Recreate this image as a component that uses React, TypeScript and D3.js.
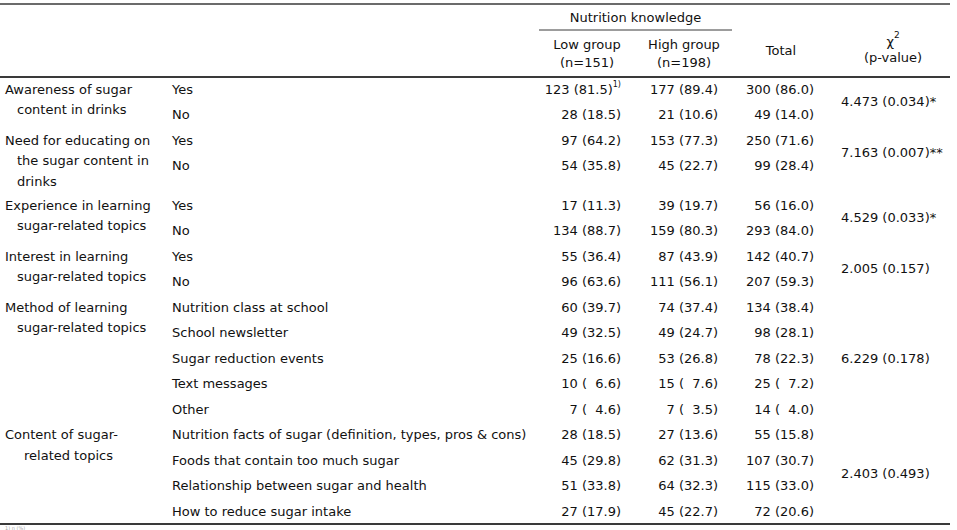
import React from "react";
import * as d3 from "d3";

const categoryLines: string[][] = [
  ["Awareness of sugar", "content in drinks"],
  ["Need for educating on", "the sugar content in", "drinks"],
  ["Experience in learning", "sugar-related topics"],
  ["Interest in learning", "sugar-related topics"],
  ["Method of learning", "sugar-related topics"],
  ["Content of sugar-", "related topics"],
];
const optionLabels: string[][] = [
  ["Yes", "No"],
  ["Yes", "No"],
  ["Yes", "No"],
  ["Yes", "No"],
  ["Nutrition class at school", "School newsletter", "Sugar reduction events", "Text messages", "Other"],
  [
    "Nutrition facts of sugar (definition, types, pros & cons)",
    "Foods that contain too much sugar",
    "Relationship between sugar and health",
    "How to reduce sugar intake",
  ],
];
const lowN = [123, 28, 97, 54, 17, 134, 55, 96, 60, 49, 25, 10, 7, 28, 45, 51, 27];
const lowPct = [81.5, 18.5, 64.2, 35.8, 11.3, 88.7, 36.4, 63.6, 39.7, 32.5, 16.6, 6.6, 4.6, 18.5, 29.8, 33.8, 17.9];
const highN = [177, 21, 153, 45, 39, 159, 87, 111, 74, 49, 53, 15, 7, 27, 62, 64, 45];
const highPct = [89.4, 10.6, 77.3, 22.7, 19.7, 80.3, 43.9, 56.1, 37.4, 24.7, 26.8, 7.6, 3.5, 13.6, 31.3, 32.3, 22.7];
const totalN = [300, 49, 250, 99, 56, 293, 142, 207, 134, 98, 78, 25, 14, 55, 107, 115, 72];
const totalPct = [86.0, 14.0, 71.6, 28.4, 16.0, 84.0, 40.7, 59.3, 38.4, 28.1, 22.3, 7.2, 4.0, 15.8, 30.7, 33.0, 20.6];
const chiSq = ["4.473", "7.163", "4.529", "2.005", "6.229", "2.403"];
const pValues = ["0.034", "0.007", "0.033", "0.157", "0.178", "0.493"];
const signif = ["*", "**", "*", "", "", ""];
const headerGroup = "Nutrition knowledge";
const colHeaders = [["Low group", "(n=151)"], ["High group", "(n=198)"]];
const totalHeader = "Total";
const footnote = "1) n (%)";

const W = 957;
const H = 530;
const FONT = "'DejaVu Sans', sans-serif";
const FS = 13;
const TEXT = "#111";
const RULE = "#3a3a3a";

const LINE_UNITS = 20.5 / 25.5;
const AFTER_LINE_UNITS = 24 / 25.5;

function fmt(n: number, p: number): string {
  const ps = p.toFixed(1);
  const pad = p < 10 ? "\u2007" : "";
  return `${n} (${pad}${ps})`;
}

export default function App() {
  type Row = { g: number; i: number; slot: number };
  const rows: Row[] = [];
  const groupStart: number[] = [];
  let slot = 0;
  categoryLines.forEach((lines, g) => {
    groupStart.push(slot);
    const opts = optionLabels[g];
    opts.forEach((_, i) => rows.push({ g, i, slot: slot + i }));
    const byRows = opts.length;
    const byLines = (lines.length - 1) * LINE_UNITS + AFTER_LINE_UNITS;
    slot += Math.max(byRows, byLines);
  });
  const lastSlot = rows[rows.length - 1].slot;
  const y = d3.scaleLinear().domain([0, lastSlot]).range([89, 511.5]);
  const lineY = d3.scaleLinear().domain([0, 1]).range([0, y(LINE_UNITS) - y(0)]);

  const colX = d3.scaleOrdinal<string, number>().domain(["low", "high", "total"]).range([621, 718, 814]);
  const colCenter = d3.scaleOrdinal<string, number>().domain(["low", "high", "total"]).range([587, 684, 781]);

  const textProps = { fontFamily: FONT, fontSize: FS, fill: TEXT, dominantBaseline: "central" as const };

  return (
    <svg width={W} height={H} style={{ position: "absolute", left: 0, top: 0, background: "#fff" }}>
      <rect x={0} y={0} width={W} height={H} fill="#fff" />
      <line x1={0} x2={950} y1={4} y2={4} stroke={RULE} strokeWidth={1.5} />
      <line x1={539} x2={732} y1={30} y2={30} stroke={RULE} strokeWidth={1} />
      <line x1={0} x2={950} y1={77} y2={77} stroke={RULE} strokeWidth={2} />
      <line x1={0} x2={950} y1={524} y2={524} stroke={RULE} strokeWidth={2} />

      <text {...textProps} x={635.5} y={17} textAnchor="middle">{headerGroup}</text>
      {colHeaders.map((h, k) => (
        <g key={k}>
          <text {...textProps} x={colCenter(k === 0 ? "low" : "high")} y={44} textAnchor="middle">{h[0]}</text>
          <text {...textProps} x={colCenter(k === 0 ? "low" : "high")} y={62} textAnchor="middle">{h[1]}</text>
        </g>
      ))}
      <text {...textProps} x={colCenter("total")} y={50} textAnchor="middle">{totalHeader}</text>
      <text {...textProps} x={893} y={41} textAnchor="middle">
        {"χ"}
        <tspan fontSize={9} dy={-6}>2</tspan>
      </text>
      <text {...textProps} x={893} y={57} textAnchor="middle">(p-value)</text>

      {categoryLines.map((lines, g) => (
        <g key={g}>
          {lines.map((l, j) => (
            <text
              key={j}
              {...textProps}
              x={j === 0 ? 5 : g === 5 ? 24 : 17}
              y={y(groupStart[g]) + lineY(j)}
            >
              {l}
            </text>
          ))}
          <text {...textProps} x={841} y={(y(groupStart[g]) + y(groupStart[g] + optionLabels[g].length - 1)) / 2}>
            {`${chiSq[g]} (${pValues[g]})${signif[g]}`}
          </text>
        </g>
      ))}

      {rows.map((r, k) => (
        <g key={k}>
          <text {...textProps} x={172} y={y(r.slot)}>{optionLabels[r.g][r.i]}</text>
          <text {...textProps} x={colX("low")} y={y(r.slot)} textAnchor="end" style={{ whiteSpace: "pre" }}>
            {fmt(lowN[k], lowPct[k])}
            {k === 0 ? (
              <tspan fontSize={8} dy={-5}>1)</tspan>
            ) : null}
          </text>
          <text {...textProps} x={colX("high")} y={y(r.slot)} textAnchor="end" style={{ whiteSpace: "pre" }}>
            {fmt(highN[k], highPct[k])}
          </text>
          <text {...textProps} x={colX("total")} y={y(r.slot)} textAnchor="end" style={{ whiteSpace: "pre" }}>
            {fmt(totalN[k], totalPct[k])}
          </text>
        </g>
      ))}

      <text x={5} y={528} fontFamily={FONT} fontSize={5} fill="#aaa" dominantBaseline="central">{footnote}</text>
    </svg>
  );
}
